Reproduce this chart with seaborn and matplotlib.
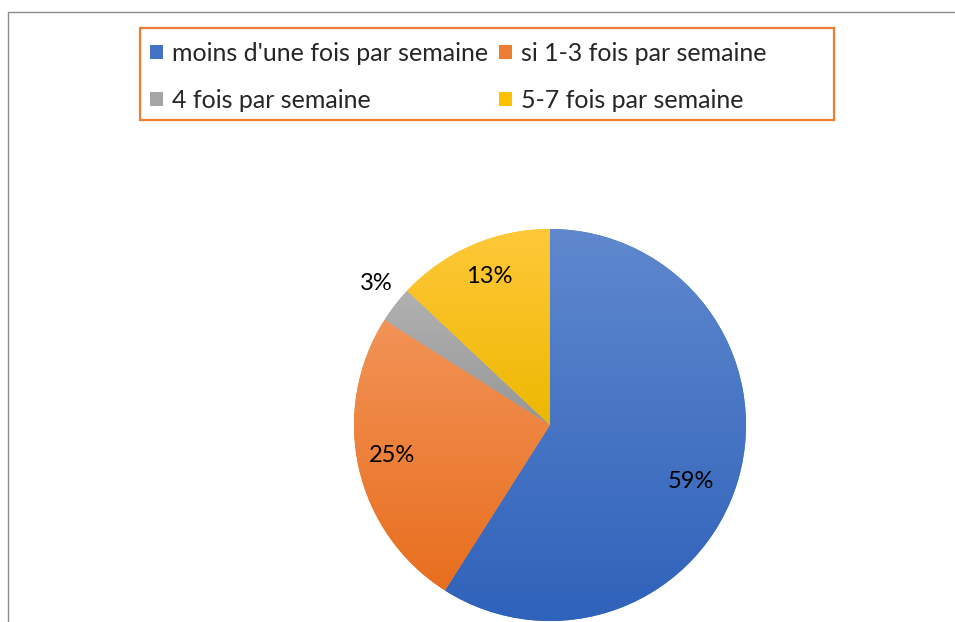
import matplotlib
matplotlib.use("Agg")
import numpy as np
import matplotlib.pyplot as plt
import seaborn as sns
from matplotlib.colors import LinearSegmentedColormap, to_rgb
from matplotlib.lines import Line2D
from matplotlib.patches import Rectangle

categories = ["moins d'une fois par semaine", "si 1-3 fois par semaine",
              "4 fois par semaine", "5-7 fois par semaine"]
values = [59, 25, 3, 13]
pct_labels = ["59%", "25%", "3%", "13%"]
colors = ["#4472C4", "#ED7D31", "#A5A5A5", "#FFC000"]
top_colors = ["#5F88CE", "#F29357", "#B2B2B2", "#FFC83A"]
bottom_colors = ["#2F62BA", "#E86E1E", "#969696", "#EDB800"]
label_dist = [0.774, 0.82, 1.146, 0.82]
label_angle_shift = [-5.5, -1.5, -1.4, -1.1]

sns.set_theme(style="white")
plt.rcParams['font.family'] = ['Lato', 'DejaVu Sans']

W, H = 955, 622
fig = plt.figure(figsize=(W / 100, H / 100), dpi=100)
ax = fig.add_axes([0, 0, 1, 1])

cx, cy, r = 550, H - 425, 196
wedges, _ = ax.pie(values, colors=colors, startangle=90, counterclock=False,
                   center=(cx, cy), radius=r, wedgeprops=dict(linewidth=0))
ax.set_xlim(0, W)
ax.set_ylim(0, H)
ax.set_aspect('equal')
ax.axis('off')

# vertical gradient per slice
for w, c_top, c_bot in zip(wedges, top_colors, bottom_colors):
    t1, t2 = w.theta1, w.theta2
    angs = np.radians(np.linspace(t1, t2, 200))
    ys = np.concatenate([[cy], cy + r * np.sin(angs)])
    y0, y1 = ys.min(), ys.max()
    cmap = LinearSegmentedColormap.from_list("g", [to_rgb(c_bot), to_rgb(c_top)])
    grad = np.linspace(0, 1, 256).reshape(-1, 1)
    im = ax.imshow(grad, cmap=cmap, extent=[cx - r, cx + r, y0, y1],
                   origin='lower', aspect='auto', zorder=2, interpolation='bilinear')
    im.set_clip_path(w)
ax.set_xlim(0, W)
ax.set_ylim(0, H)

for w, lab, d, s in zip(wedges, pct_labels, label_dist, label_angle_shift):
    mid = np.radians((w.theta1 + w.theta2) / 2 + s)
    ax.text(cx + d * r * np.cos(mid), cy + d * r * np.sin(mid), lab,
            ha='center', va='center', fontsize=17, color='#000000', zorder=5)

# legend, row-major order
order = [0, 2, 1, 3]
leg = fig.legend(handles=[wedges[i] for i in order],
                 labels=[categories[i] for i in order], ncol=2, loc='upper left',
                 bbox_to_anchor=(150 / W, 1 - 42 / H),
                 fontsize=18, frameon=False, handlelength=0.52,
                 handleheight=0.52, handletextpad=0.36, columnspacing=0.45,
                 labelspacing=0.95, borderpad=0, borderaxespad=0)

fig.add_artist(Rectangle((140 / W, 1 - 120 / H), 694 / W, 92 / H,
                         transform=fig.transFigure, facecolor='none',
                         edgecolor='#ED7D31', lw=1.6, zorder=10))

fig.add_artist(Line2D([8 / W, 8 / W], [0, 1 - 12 / H], transform=fig.transFigure,
                      color='#8c8c8c', lw=1))
fig.add_artist(Line2D([8 / W, 1], [1 - 12 / H, 1 - 12 / H], transform=fig.transFigure,
                      color='#8c8c8c', lw=1))

fig.savefig("out.png", dpi=100, facecolor='white')
